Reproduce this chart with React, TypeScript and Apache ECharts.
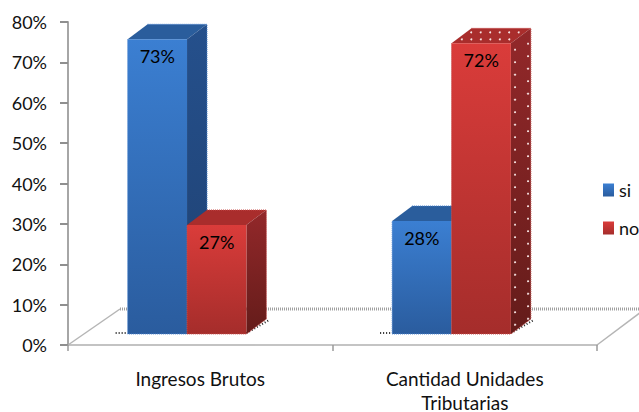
import React, { useEffect, useRef } from "react";
import * as echarts from "echarts";

const categories = ["Ingresos Brutos", "Cantidad Unidades\nTributarias"];
const seriesNames = ["si", "no"];
const siValues = [73, 28];
const noValues = [27, 72];
const yTicks = { min: 0, max: 80, interval: 10 };
const dottedNoIndex = 1;

const FONT = "Lato";
const lg = (a: string, b: string, h = false) =>
  new echarts.graphic.LinearGradient(0, 0, h ? 1 : 0, h ? 0 : 1, [
    { offset: 0, color: a },
    { offset: 1, color: b },
  ]);

const palettes = [
  { front: ["#3b7fd2", "#2a5c9e"], side: ["#25508c", "#1f4172"], top: "#2a5d9c", edge: "#4f86cf" },
  { front: ["#da3c3a", "#a52d2b"], side: ["#93282a", "#641c1a"], top: "#a92d2c", edge: "#c8504e" },
];

function renderBar(seriesIdx: number) {
  return (params: any, api: any) => {
    const idx = api.value(0);
    const val = api.value(1);
    const band = api.size([1, 0])[0];
    const w = band * 0.2245;
    const cx = api.coord([idx, 0])[0] - band * 0.05;
    const dropY = 11;
    const dx = 20;
    const dy = 15;
    const left = cx - w + seriesIdx * w;
    const right = left + w;
    const bottom = api.coord([idx, 0])[1] - dropY;
    const top = api.coord([idx, val])[1] - dropY;
    const p = palettes[seriesIdx];
    const children: any[] = [];

    // shadow dots on the floor
    const shadow = { stroke: "#222", lineWidth: 2, lineDash: [1, 2], fill: null };
    if (seriesIdx === 0) {
      children.push({ type: "line", shape: { x1: left - 12, y1: bottom - 1, x2: left, y2: bottom - 1 }, style: shadow });
    } else {
      children.push({ type: "line", shape: { x1: right, y1: bottom - 1, x2: right + dx + 3, y2: bottom - dy + 1 }, style: shadow });
    }
    // top face
    children.push({
      type: "polygon",
      shape: { points: [[left, top], [left + dx, top - dy], [right + dx, top - dy], [right, top]] },
      style: { fill: p.top },
    });
    // side face
    children.push({
      type: "polygon",
      shape: { points: [[right, top], [right + dx, top - dy], [right + dx, bottom - dy], [right, bottom]] },
      style: { fill: lg(p.side[0], p.side[1]) },
    });
    // front face
    children.push({
      type: "rect",
      shape: { x: left, y: top, width: w, height: bottom - top },
      style: { fill: lg(p.front[0], p.front[1]) },
    });
    // dotted outline
    children.push({
      type: "polyline",
      shape: { points: [[left + dx, top - dy], [right + dx, top - dy], [right + dx, bottom - dy], [right, bottom], [left, bottom], [left, top]] },
      style: { stroke: p.edge, lineWidth: 1, lineDash: [1, 1], fill: null },
    });
    // white dots of the dotted bar
    if (seriesIdx === 1 && idx === dottedNoIndex) {
      const dot = (x: number, y: number) =>
        children.push({ type: "circle", shape: { cx: x, cy: y, r: 1 }, style: { fill: "#f6e2e2" } });
      for (let y = top - 11; y < top; y += 7) {
        const t = (top - y) / dy;
        for (let x = left + t * dx + 5; x < right + t * dx; x += 9.5) dot(x, y);
      }
      for (let y = top + 2; y < bottom - 12; y += 12.5) {
        dot(right + 4, y + 4);
        dot(right + 17, y - 2);
      }
    }
    // value label
    children.push({
      type: "text",
      style: {
        x: left + w / 2,
        y: top + 17,
        text: val + "%",
        fill: "#000",
        font: `18px ${FONT}`,
        align: "center",
        verticalAlign: "middle",
      },
    });
    return { type: "group", children };
  };
}

export default function App() {
  const ref = useRef<HTMLDivElement>(null);
  useEffect(() => {
    const chart = echarts.init(ref.current!, undefined, { renderer: "svg" });
    const floor = { stroke: "#a0a0a0", lineWidth: 3, fill: null };
    chart.setOption({
      animation: false,
      backgroundColor: "#fff",
      grid: { left: 68, right: 42, top: 22, bottom: 67, containLabel: false, outerBoundsMode: "none" },
      legend: {
        orient: "vertical",
        left: 598,
        top: 176,
        itemWidth: 11,
        itemHeight: 13,
        itemGap: 20,
        icon: "rect",
        textStyle: { fontFamily: FONT, fontSize: 18, color: "#111" },
        data: [
          { name: seriesNames[0], itemStyle: { color: lg(palettes[0].front[0], palettes[0].front[1]) } },
          { name: seriesNames[1], itemStyle: { color: lg(palettes[1].front[0], palettes[1].front[1]) } },
        ],
      },
      graphic: [
        { type: "line", z: 0, shape: { x1: 120, y1: 309, x2: 639, y2: 309 }, style: { ...floor, lineDash: [1, 1] } },
        { type: "line", z: 0, shape: { x1: 68, y1: 345, x2: 120, y2: 309 }, style: { stroke: "#b5b5b5", lineWidth: 1.5 } },
        { type: "line", z: 0, shape: { x1: 597, y1: 345, x2: 645, y2: 309 }, style: { stroke: "#b5b5b5", lineWidth: 1.5 } },
      ],
      xAxis: {
        type: "category",
        data: categories,
        axisLine: { lineStyle: { color: "#b0b0b0", width: 1.5 } },
        axisTick: { show: true, length: 6, lineStyle: { color: "#9a9a9a", width: 1.5 } },
        axisLabel: { color: "#111", fontFamily: FONT, fontSize: 19, margin: 21, lineHeight: 24, interval: 0 },
      },
      yAxis: {
        type: "value",
        ...yTicks,
        splitLine: { show: false },
        axisLine: { show: true, lineStyle: { color: "#a6a6a6", width: 2 } },
        axisTick: { show: true, length: 8, lineStyle: { color: "#8f8f8f", width: 2 } },
        axisLabel: { formatter: "{value}%", color: "#111", fontFamily: FONT, fontSize: 18, margin: 21 },
      },
      series: [
        { type: "custom", name: seriesNames[0], z: 3, renderItem: renderBar(0), data: siValues.map((v, i) => [i, v]), encode: { x: 0, y: 1 } },
        { type: "custom", name: seriesNames[1], z: 4, renderItem: renderBar(1), data: noValues.map((v, i) => [i, v]), encode: { x: 0, y: 1 } },
      ],
    });
    return () => chart.dispose();
  }, []);
  return <div ref={ref} style={{ position: "absolute", left: 0, top: 0, width: 639, height: 412 }} />;
}
